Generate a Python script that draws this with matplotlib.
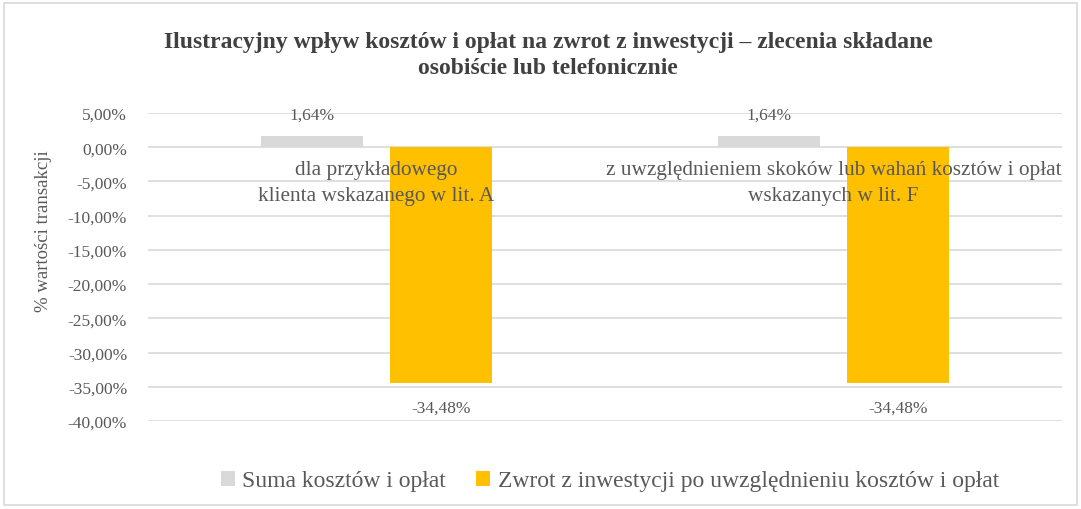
import matplotlib.pyplot as plt
import numpy as np
from matplotlib.patches import Rectangle

categories = ["dla przykładowego\nklienta wskazanego w lit. A",
              "z uwzględnieniem skoków lub wahań kosztów i opłat\nwskazanych w lit. F"]
series_names = ["Suma kosztów i opłat",
                "Zwrot z inwestycji po uwzględnieniu kosztów i opłat"]
koszty = [1.64, 1.64]
zwrot = [-34.48, -34.48]
yticks = [5, 0, -5, -10, -15, -20, -25, -30, -35, -40]

plt.rcParams['font.family'] = ['Liberation Serif', 'DejaVu Serif']
txt = '#595959'

fig = plt.figure(figsize=(10.81, 5.10), dpi=100)
ax = fig.add_axes([0.1369, 0.1725, 0.8455, 0.604])

x = np.arange(len(categories))
w = 0.223
off = 0.142
b1 = ax.bar(x - off, koszty, w, color='#d9d9d9', label=series_names[0], zorder=2)
b2 = ax.bar(x + off, zwrot, w, color='#ffc000', label=series_names[1], zorder=2)

for r, v in zip(b1, koszty):
    ax.text(r.get_x() + r.get_width() / 2, 4.75, f"{v:.2f}%".replace('.', ','),
            ha='center', va='center', fontsize=12.5, color=txt, zorder=3)
for r, v in zip(b2, zwrot):
    ax.text(r.get_x() + r.get_width() / 2, -38.1, f"{v:.2f}%".replace('.', ','),
            ha='center', va='center', fontsize=12.5, color=txt, zorder=3)

# category labels sit inside the plot near the zero line, over the bars
for xi, c in zip(x, categories):
    ax.text(xi, -1.9, c, ha='center', va='top', fontsize=15.3, color=txt,
            linespacing=1.45, zorder=4)

ax.set_xlim(-0.5, 1.5)
ax.set_ylim(-40, 5)
ax.set_yticks(yticks)
ax.set_yticklabels([f"{t:.2f}%".replace('.', ',') for t in yticks], fontsize=12.5, color=txt)
ax.set_xticks([])
ax.tick_params(axis='y', length=0, pad=15)
ax.grid(axis='y', color='#d9d9d9', linewidth=1.2, zorder=0)
for s in ax.spines.values():
    s.set_visible(False)
ax.set_ylabel("% wartości transakcji", fontsize=13.5, color=txt)
ax.yaxis.set_label_coords(-0.105, 0.62)

fig.text(0.507, 0.891, "Ilustracyjny wpływ kosztów i opłat na zwrot z inwestycji – zlecenia składane\nosobiście lub telefonicznie",
         ha='center', va='center', fontsize=17, fontweight='bold', color='#404040', linespacing=1.28)

fig.legend(handles=[b1, b2], labels=series_names, loc='center', bbox_to_anchor=(0.564, 0.055),
           ncol=2, frameon=False, fontsize=17, handlelength=0.6, handleheight=0.6,
           handletextpad=0.3, columnspacing=1.3, labelcolor=txt)

fig.patches.append(Rectangle((0.004, 0.008), 0.992, 0.985, transform=fig.transFigure,
                             fill=False, edgecolor='#d9d9d9', linewidth=1.2))

fig.savefig('out.png', dpi=100, facecolor='white')
